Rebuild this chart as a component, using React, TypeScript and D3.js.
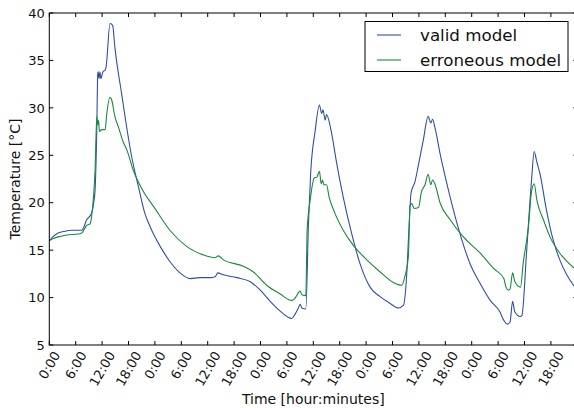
import {useEffect, useRef} from 'react';
import * as d3 from 'd3';

// hours since start, temperature in °C
const validModel: [number, number][] = [
	[0, 16.0], [0.8, 16.4], [2, 16.8], [3.6, 17.0], [5, 17.1], [7.4, 17.1], [8.5, 18.2], [9.6, 18.9], [10.1, 20.0]
	, [10.4, 21.3], [10.8, 28.0], [11, 33.5], [11.1, 33.8], [11.3, 33.1], [11.5, 33.8], [11.7, 33.1], [12.2, 33.8]
	, [12.7, 34.0], [12.9, 34.3], [13.8, 38.9], [14.4, 38.7], [14.9, 36.4], [16.4, 31.6], [18.7, 24.9], [20.3, 21.6]
	, [21.7, 18.9], [22.9, 17.5], [24, 16.4], [25.2, 15.4], [27.4, 13.8], [29.7, 12.6], [32, 12.0], [34.2, 12.1]
	, [36.5, 12.1], [37.7, 12.2], [38.3, 12.6], [39.5, 12.4], [42.6, 12.1], [45.6, 11.7], [47.9, 10.8], [50.2, 9.6]
	, [52.4, 8.6], [55.1, 7.8], [55.8, 8.2], [56.6, 8.9], [57, 9.3], [57.4, 8.9], [58.3, 8.8], [58.9, 17.8]
	, [59.4, 23.1], [60.4, 27.5], [61.4, 30.3], [61.9, 29.4], [62.2, 29.8], [62.7, 28.7], [63, 29.3], [64, 27.7]
	, [65.3, 24.2], [66.8, 20.6], [68.7, 16.8], [70.6, 13.6], [72.9, 11.1], [75.2, 10.1], [77.4, 9.4], [79.3, 8.9]
	, [80.5, 9.2], [81.2, 12.2], [81.8, 17.8], [82.2, 21.0], [83.1, 22.2], [83.9, 24.0], [85, 26.6], [86.1, 29.1]
	, [86.7, 28.4], [87.1, 28.8], [87.7, 27.8], [88.8, 25.2], [91.1, 20.6], [93.3, 16.8], [95.6, 13.6], [97.9, 11.5]
	, [100.2, 9.7], [102.4, 8.5], [103.3, 7.6], [104.1, 7.2], [104.7, 7.4], [105.3, 9.6], [105.8, 8.5], [107, 8.0]
	, [107.4, 8.1], [108.5, 15.0], [109.6, 22.4], [110.2, 25.4], [110.8, 24.3], [111.5, 23.1], [113, 19.2]
	, [114.5, 16.1], [116, 14.0], [117.6, 12.4], [119.3, 11.2], [120, 10.8]
];

const erroneousModel: [number, number][] = [
	[0, 16.0], [0.8, 16.2], [2, 16.4], [4, 16.6], [6.6, 16.7], [7.4, 16.8], [8.5, 17.6], [9.3, 17.8], [9.6, 18.5]
	, [10.1, 21.0], [10.4, 23.4], [10.8, 29.1], [11, 28.2], [11.2, 28.7], [11.4, 27.5], [11.9, 27.7], [12.7, 27.7]
	, [13, 29.1], [13.8, 31.1], [14.2, 30.8], [14.9, 29.1], [15.7, 28.0], [16.8, 26.4], [17.6, 25.6], [19.1, 23.4]
	, [21, 21.5], [24, 19.4], [27.4, 17.1], [31.2, 15.4], [35, 14.5], [37.7, 14.2], [38.4, 14.4], [39.5, 14.0]
	, [44.1, 13.3], [46.4, 12.7], [49.4, 11.3], [52.4, 10.4], [55.1, 9.7], [55.8, 9.9], [56.6, 10.5], [57, 10.7]
	, [57.4, 10.3], [58.3, 10.2], [58.6, 17.1], [59.3, 20.3], [60.2, 22.6], [60.8, 22.7], [61.4, 23.3], [61.8, 22.0]
	, [62.1, 22.4], [62.4, 21.9], [63, 21.9], [63.6, 20.6], [64.9, 18.9], [66.8, 17.1], [69.1, 15.5], [72.1, 14.0]
	, [75.2, 12.7], [78.2, 11.6], [80.1, 11.3], [80.8, 12.2], [81.6, 14.3], [82, 19.7], [82.4, 19.9], [82.9, 19.4]
	, [83.9, 19.5], [84.6, 21.2], [85.4, 21.9], [86.1, 23.0], [86.7, 21.9], [87.1, 22.4], [87.7, 21.9], [88.8, 20.0]
	, [91.1, 18.2], [94.1, 16.4], [97.9, 14.7], [100.9, 13.1], [103.3, 12.0], [103.8, 11.1], [104.3, 10.8]
	, [104.7, 10.9], [105.3, 12.6], [105.8, 11.7], [107.1, 11.1], [107.7, 13.6], [108.9, 17.5], [109.6, 21.2]
	, [110.2, 22.0], [110.8, 20.3], [112.3, 18.2], [113.8, 16.4], [116, 14.7], [119.3, 13.1], [120, 12.8]
];

const xTicks = d3.range(0, 121, 6)
	, yTicks = d3.range(5, 41, 5)
	, seriesNames = ['valid model', 'erroneous model']
	, seriesColors = ['#2f4fa2', '#188a3c']
	;

function App(){
	const svgRef = useRef<SVGSVGElement>(null);

	useEffect(()=>{
		const svg = d3.select(svgRef.current)
			, W = 574
			, H = 408
			, left = 49.3
			, right = 577.3
			, top = 13
			, bottom = 345
			, font = 'DejaVu Sans, sans-serif'
			, x = d3.scaleLinear().domain([0, 120]).range([left, right])
			, y = d3.scaleLinear().domain([5, 40]).range([bottom, top])
			, line = d3.line<[number, number]>().x(d => x(d[0])).y(d => y(d[1])).curve(d3.curveMonotoneX)
			;

		svg.selectAll('*').remove();
		svg.attr('width', W).attr('height', H);

		svg.append('clipPath').attr('id', 'plot-clip')
			.append('rect').attr('x', left).attr('y', top).attr('width', right - left).attr('height', bottom - top);

		// 曲线
		[validModel, erroneousModel].forEach((data, i)=>{
			svg.append('path').datum(data)
				.attr('clip-path', 'url(#plot-clip)')
				.attr('fill', 'none')
				.attr('stroke', seriesColors[i])
				.attr('stroke-width', 1.1)
				.attr('stroke-linejoin', 'round')
				.attr('d', line);
		});

		// 边框
		svg.append('rect').attr('x', left).attr('y', top).attr('width', right - left).attr('height', bottom - top)
			.attr('fill', 'none').attr('stroke', '#000').attr('stroke-width', 1);

		// 刻度 (inward, all sides)
		const ticks = svg.append('g').attr('stroke', '#000').attr('stroke-width', 1);
		xTicks.forEach(t=>{
			ticks.append('line').attr('x1', x(t)).attr('x2', x(t)).attr('y1', bottom).attr('y2', bottom - 4);
			ticks.append('line').attr('x1', x(t)).attr('x2', x(t)).attr('y1', top).attr('y2', top + 4);
		});
		yTicks.forEach(t=>{
			ticks.append('line').attr('x1', left).attr('x2', left + 4).attr('y1', y(t)).attr('y2', y(t));
			ticks.append('line').attr('x1', right).attr('x2', right - 4).attr('y1', y(t)).attr('y2', y(t));
		});

		// y 刻度文字
		svg.append('g').selectAll('text').data(yTicks).enter().append('text')
			.attr('x', left - 4.5).attr('y', d => y(d)).attr('dy', '0.36em')
			.attr('text-anchor', 'end')
			.attr('font-family', font).attr('font-size', 13).attr('fill', '#111')
			.text(d => d);

		// x 刻度文字, rotated 60°, bbox centred on the tick
		svg.append('g').selectAll('text').data(xTicks.slice(0, -1)).enter().append('text')
			.attr('text-anchor', 'middle').attr('dy', '0.36em')
			.attr('font-family', font).attr('font-size', 13).attr('fill', '#111')
			.text(d => `${d % 24}:00`)
			.each(function(d){
				const el = this as SVGTextElement
					, w = el.getComputedTextLength()
					, h = w * Math.sin(Math.PI / 3) + 10 * 0.5
					;
				d3.select(el).attr('transform', `translate(${x(d)},${350 + h / 2}) rotate(-60)`);
			});

		// 轴标题
		svg.append('text').attr('x', (left + right) / 2).attr('y', 404)
			.attr('text-anchor', 'middle').attr('font-family', font).attr('font-size', 14).attr('fill', '#111')
			.text('Time [hour:minutes]');
		svg.append('text').attr('transform', `translate(20,${(top + bottom) / 2}) rotate(-90)`)
			.attr('text-anchor', 'middle').attr('font-family', font).attr('font-size', 14).attr('fill', '#111')
			.text('Temperature [°C]');

		// 图例
		const legend = svg.append('g');
		legend.append('rect').attr('x', 365).attr('y', 21.5).attr('width', 203).attr('height', 50)
			.attr('fill', '#fff').attr('stroke', '#000').attr('stroke-width', 1);
		seriesNames.forEach((name, i)=>{
			const ly = 35 + i * 25;
			legend.append('line').attr('x1', 377).attr('x2', 401).attr('y1', ly).attr('y2', ly)
				.attr('stroke', seriesColors[i]).attr('stroke-width', 1.1);
			legend.append('text').attr('x', 420).attr('y', ly + 6)
				.attr('font-family', font).attr('font-size', 16.7).attr('fill', '#111')
				.text(name);
		});
	}, []);

	return (<svg ref={svgRef}
	             style={{position: 'absolute', left: 0, top: 0, background: '#fff'}}></svg>);
}

export default App;
